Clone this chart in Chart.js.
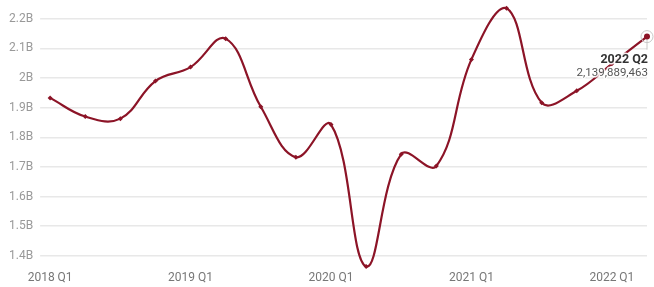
<!DOCTYPE html>
<html>
<head>
<meta charset="utf-8">
<script src="https://cdn.jsdelivr.net/npm/chart.js@4"></script>
<style>
  html, body { margin: 0; padding: 0; background: #fff; }
  #wrap { width: 654px; height: 287px; }
</style>
</head>
<body>
<div id="wrap"><canvas id="line-chart"></canvas></div>
<script>
const quarters = ['2018 Q1', '2018 Q2', '2018 Q3', '2018 Q4',
    '2019 Q1', '2019 Q2', '2019 Q3', '2019 Q4',
    '2020 Q1', '2020 Q2', '2020 Q3', '2020 Q4',
    '2021 Q1', '2021 Q2', '2021 Q3', '2021 Q4',
    '2022 Q1', '2022 Q2'];
const values = [1933000000, 1870000000, 1863000000, 1990000000,
    2037000000, 2133000000, 1903000000, 1733000000,
    1843000000, 1364000000, 1743000000, 1703000000,
    2063000000, 2236000000, 1917000000, 1957000000,
    2048000000, 2139889463];
const yTicks = [1.4e9, 1.5e9, 1.6e9, 1.7e9, 1.8e9, 1.9e9, 2.0e9, 2.1e9, 2.2e9];
const lineColor = '#8c1427';

// label for the last point, drawn like a hover tooltip
const lastPointLabel = {
    id: 'lastPointLabel',
    afterDatasetsDraw(chart) {
        const ctx = chart.ctx;
        const meta = chart.getDatasetMeta(0);
        const i = values.length - 1;
        const pt = meta.data[i];
        ctx.save();
        ctx.strokeStyle = '#c8c8c8';
        ctx.lineWidth = 1;
        ctx.beginPath();
        ctx.moveTo(pt.x, pt.y);
        ctx.lineTo(pt.x, pt.y + 13);
        ctx.stroke();
        ctx.beginPath();
        ctx.arc(pt.x, pt.y, 6, 0, Math.PI * 2);
        ctx.stroke();
        ctx.fillStyle = lineColor;
        ctx.beginPath();
        ctx.arc(pt.x, pt.y, 3, 0, Math.PI * 2);
        ctx.fill();
        const tx = pt.x + 1;
        ctx.textAlign = 'right';
        ctx.textBaseline = 'alphabetic';
        ctx.font = 'bold 12.5px Roboto';
        ctx.lineWidth = 3;
        ctx.strokeStyle = 'rgba(255,255,255,0.9)';
        ctx.strokeText(quarters[i], tx, pt.y + 26);
        ctx.fillStyle = '#333';
        ctx.fillText(quarters[i], tx, pt.y + 26);
        ctx.font = '11.5px Roboto';
        ctx.strokeText(values[i].toLocaleString('en-US'), tx, pt.y + 39);
        ctx.fillStyle = '#555';
        ctx.fillText(values[i].toLocaleString('en-US'), tx, pt.y + 39);
        ctx.restore();
    }
};

const Ctx = document.getElementById('line-chart').getContext('2d');
const chart = new Chart(Ctx, {
    type: 'line',
    data: {
        labels: quarters,
        datasets: [{
            data: values,
            borderColor: lineColor,
            backgroundColor: lineColor,
            borderWidth: 2.2,
            tension: 0.4,
            pointRadius: 2.5,
            pointStyle: 'rectRot',
            pointBorderWidth: 0,
            clip: false
        }]
    },
    options: {
        responsive: true,
        maintainAspectRatio: false,
        animation: false,
        layout: { padding: { top: -2, right: 7, bottom: 2, left: 2 } },
        plugins: {
            legend: { display: false },
            tooltip: { enabled: false }
        },
        scales: {
            x: {
                grid: { display: false, drawTicks: false },
                border: { display: false },
                ticks: {
                    autoSkip: false,
                    maxRotation: 0,
                    padding: 0,
                    color: '#777',
                    font: { family: 'Roboto', size: 12 },
                    callback: (v, i) => (i % 4 === 0 ? quarters[i] : '')
                }
            },
            y: {
                min: 1.35e9,
                max: 2.25e9,
                afterBuildTicks: (scale) => {
                    scale.ticks = yTicks.map(v => ({ value: v }));
                },
                afterFit: (scale) => {
                    scale.paddingTop = 0;
                    scale.paddingBottom = 0;
                },
                grid: { color: '#e8e8e8', lineWidth: 1.5, drawTicks: true, tickLength: 10, tickColor: '#e8e8e8' },
                border: { display: false },
                ticks: {
                    padding: 7,
                    color: '#999',
                    font: { family: 'Roboto', size: 12 },
                    callback: (v) => (v / 1e9).toString() + 'B'
                }
            }
        }
    },
    plugins: [lastPointLabel]
});
</script>
</body>
</html>
